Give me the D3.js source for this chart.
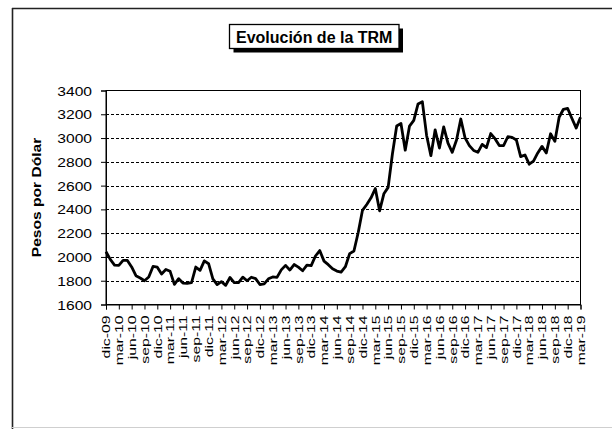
<!DOCTYPE html>
<html><head><meta charset="utf-8">
<script src="https://cdn.jsdelivr.net/npm/d3@7"></script>
<style>html,body{margin:0;padding:0;background:#fff;}svg{display:block;}</style>
</head><body>
<svg id="c" width="612" height="429"></svg>
<script>
const title = "Evolución de la TRM";
const yTitle = "Pesos por Dólar";
const yTicks = [1600,1800,2000,2200,2400,2600,2800,3000,3200,3400];
const gridValues = [1800,2000,2200,2400,2600,2800,3000,3200];
// quarterly tick labels, one every 3 months starting dic-09
const tickLabels = ["dic-09",
 "mar-10","jun-10","sep-10","dic-10",
 "mar-11","jun-11","sep-11","dic-11",
 "mar-12","jun-12","sep-12","dic-12",
 "mar-13","jun-13","sep-13","dic-13",
 "mar-14","jun-14","sep-14","dic-14",
 "mar-15","jun-15","sep-15","dic-15",
 "mar-16","jun-16","sep-16","dic-16",
 "mar-17","jun-17","sep-17","dic-17",
 "mar-18","jun-18","sep-18","dic-18",
 "mar-19"];
// monthly values dic-09 .. mar-19
const values = [
 2044,
 1979,1932,1929,1971,1971,1916,1842,1823,1800,1831,1920,1914,
 1857,1895,1879,1769,1817,1780,1777,1783,1915,1887,1967,1943,
 1815,1767,1792,1761,1827,1784,1785,1830,1800,1829,1818,1768,
 1773,1816,1832,1828,1891,1929,1890,1936,1914,1884,1931,1927,
 2008,2054,1965,1935,1900,1881,1872,1918,2028,2050,2206,2392,
 2441,2497,2576,2388,2531,2585,2866,3101,3122,2898,3101,3149,
 3287,3306,3022,2852,3069,2916,3094,2957,2880,2984,3160,3001,
 2936,2896,2880,2947,2920,3038,2995,2937,2937,3011,3006,2984,
 2844,2858,2780,2806,2875,2930,2875,3036,2972,3175,3242,3249,
 3165,3084,3175
];

const FONT = "'Liberation Sans', Arial, Helvetica, sans-serif";
const svg = d3.select("#c");

// outer frame
svg.append("line").attr("x1",12).attr("x2",612).attr("y1",8.5).attr("y2",8.5).attr("stroke","#222").attr("stroke-width",1.6);
svg.append("line").attr("x1",12.5).attr("x2",12.5).attr("y1",8).attr("y2",429).attr("stroke","#222").attr("stroke-width",1.6);
svg.append("line").attr("x1",12).attr("x2",612).attr("y1",427.5).attr("y2",427.5).attr("stroke","#cfcfcf").attr("stroke-width",1);

// title box with shadow
svg.append("rect").attr("x",233.5).attr("y",28.5).attr("width",169.5).attr("height",24).attr("fill","#000");
svg.append("rect").attr("x",229.5).attr("y",24.5).attr("width",169.5).attr("height",24).attr("fill","#fff").attr("stroke","#000").attr("stroke-width",1.3);
svg.append("text").attr("x",314.2).attr("y",43.3).attr("text-anchor","middle")
  .attr("font-family",FONT).attr("font-weight","bold").attr("font-size",16).attr("fill","#000").text(title);

const L=106, R=580.5, T=90.5, B=304.5;
const x = d3.scaleLinear().domain([0, values.length-1]).range([L,R]);
const y = d3.scaleLinear().domain([1600,3400]).range([B,T]);

// gridlines
svg.append("g").selectAll("line").data(gridValues).join("line")
  .attr("x1",L).attr("x2",R).attr("y1",d=>Math.round(y(d))+0.5).attr("y2",d=>Math.round(y(d))+0.5)
  .attr("stroke","#000").attr("stroke-width",1).attr("stroke-dasharray","3,2");

// plot frame
svg.append("rect").attr("x",L).attr("y",T).attr("width",R-L).attr("height",B-T)
  .attr("fill","none").attr("stroke","#000").attr("stroke-width",1);

// y axis
const gy = svg.append("g").attr("transform",`translate(${L},0)`)
  .call(d3.axisLeft(y).tickValues(yTicks).tickSize(5).tickFormat(d3.format("d")));
gy.select(".domain").attr("stroke","#000");
gy.selectAll(".tick line").attr("stroke","#000");
gy.selectAll(".tick text").attr("x",0).attr("dy","0.36em")
  .attr("transform","translate(-14,0) scale(1.25,1)")
  .attr("font-family",FONT).attr("font-size",12.5).attr("fill","#000");

// x axis
const tickIdx = d3.range(0, values.length, 3);
const gx = svg.append("g").attr("transform",`translate(0,${B})`)
  .call(d3.axisBottom(x).tickValues(tickIdx).tickSize(5).tickFormat(i=>tickLabels[i/3]));
gx.select(".domain").attr("stroke","#000");
gx.selectAll(".tick line").attr("stroke","#000");
gx.selectAll(".tick text").attr("x",0).attr("y",0).attr("dy","0.36em")
  .attr("text-anchor","end")
  .attr("transform","translate(0,11) rotate(-90) scale(1.5,1)")
  .attr("font-family",FONT).attr("font-size",10.5).attr("fill","#000");

// y axis title
svg.append("text").attr("text-anchor","middle")
  .attr("transform",`translate(41,${(T+B)/2}) rotate(-90) scale(1.2,1)`)
  .attr("font-family",FONT).attr("font-weight","bold").attr("font-size",13).attr("fill","#000")
  .text(yTitle);

// line
svg.append("path").datum(values)
  .attr("d", d3.line().x((d,i)=>x(i)).y(d=>y(d)).curve(d3.curveLinear))
  .attr("fill","none").attr("stroke","#000").attr("stroke-width",2.8).attr("stroke-linejoin","round");
</script>
</body></html>
